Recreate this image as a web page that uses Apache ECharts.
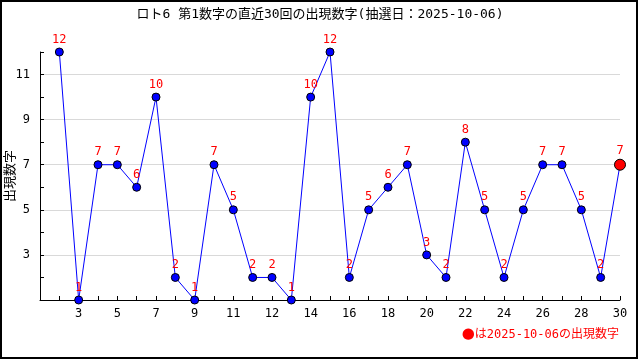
<!DOCTYPE html>
<html><head><meta charset="utf-8">
<script src="https://cdn.jsdelivr.net/npm/echarts@6/dist/echarts.min.js"></script>
<style>html,body{margin:0;padding:0;background:#fff}#c{width:640px;height:360px}</style>
</head><body><div id="c"></div>
<script>
const titleText = 'ロト6 第1数字の直近30回の出現数字(抽選日：2025-10-06)';
const yAxisName = '出現数字';
const legendMark = '●';
const legendText = 'は2025-10-06の出現数字';
const drawValues = [12,1,7,7,6,10,2,1,7,5,2,2,1,10,12,2,5,6,7,3,2,8,5,2,5,7,7,5,2,7];
const xTickLabels = ['','','3','','5','','7','','9','','11','','12','','14','','16','','18','','20','','22','','24','','26','','28','','30'];
const yTickLabels = [3,5,7,9,11];
const yMin = 1, yMax = 12;

const FONT = '"DejaVu Sans Mono","Noto Sans CJK JP",monospace';
const chart = echarts.init(document.getElementById('c'), null, {renderer:'canvas'});
const lastIdx = drawValues.length - 1;
const data = drawValues.map((v,i)=>{
  const d = {value:[i+1, v]};
  if (i === lastIdx) {
    d.symbolSize = 11;
    d.itemStyle = {color:'#ff0000', borderColor:'#000', borderWidth:1};
  }
  return d;
});
chart.setOption({
  animation:false,
  backgroundColor:'#fff',
  title:{text:titleText, left:'center', top:3, textStyle:{fontFamily:FONT, fontSize:13, fontWeight:'normal', color:'#000'}},
  grid:{left:40, right:20, top:52, bottom:60, containLabel:false, outerBoundsMode:'none'},
  xAxis:{type:'value', min:0, max:drawValues.length, interval:1,
    axisLine:{lineStyle:{color:'#000', width:1}},
    axisTick:{inside:true, length:4, lineStyle:{color:'#000'}},
    axisLabel:{fontFamily:FONT, fontSize:12, color:'#000', margin:8,
      formatter:(v)=>xTickLabels[Math.round(v)] || ''},
    splitLine:{show:false}},
  yAxis:{type:'value', min:yMin, max:yMax, interval:1,
    axisLine:{show:true, lineStyle:{color:'#000', width:1}},
    axisTick:{show:true, inside:true, length:4, lineStyle:{color:'#000'}},
    axisLabel:{fontFamily:FONT, fontSize:12, color:'#000', margin:10,
      formatter:(v)=> yTickLabels.includes(v) ? String(v) : ''},
    splitLine:{show:true, lineStyle:{color:['#d9d9d9','rgba(0,0,0,0)'], width:1}}},
  series:[{type:'line', data:data, symbol:'circle', symbolSize:8,
    lineStyle:{color:'#0000ff', width:1},
    itemStyle:{color:'#0000ff', borderColor:'#000', borderWidth:1},
    label:{show:true, position:'top', distance:2, color:'#ff0000', fontFamily:FONT, fontSize:12,
      formatter:(p)=>String(p.value[1])},
    z:3}],
  graphic:[
    {type:'rect', shape:{x:1, y:1, width:636, height:357}, style:{fill:'none', stroke:'#000', lineWidth:2}, silent:true},
    {type:'text', x:11, y:176, rotation:Math.PI/2, style:{text:yAxisName, fill:'#000', font:'13px '+FONT, align:'center', verticalAlign:'middle'}},
    {type:'text', right:21, top:327, style:{
      text:'{m|'+legendMark+'}{t|'+legendText+'}',
      rich:{m:{fill:'#ff0000', fontSize:15, fontFamily:'"DejaVu Sans",sans-serif', verticalAlign:'middle'},
            t:{fill:'#ff0000', fontSize:12, fontFamily:FONT, verticalAlign:'middle'}}}}
  ]
});
</script></body></html>
